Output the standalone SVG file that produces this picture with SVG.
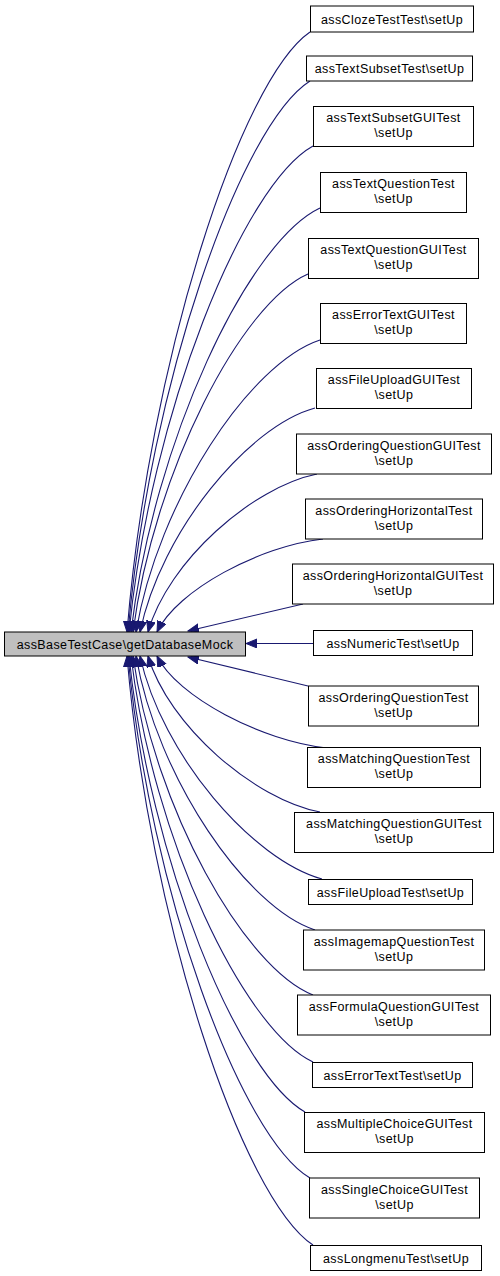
<svg xmlns="http://www.w3.org/2000/svg" width="500" height="1276" viewBox="0 0 500 1276">
<style>
.n rect{fill:#ffffff;stroke:#000000;stroke-width:1}
.root rect{fill:#bfbfbf;stroke:#000000;stroke-width:1}
text{font-family:"Liberation Sans",Arial,sans-serif;font-size:12.5px;letter-spacing:0.4px;text-anchor:middle;fill:#000000}
.e path{fill:none;stroke:#191970;stroke-width:1.1;marker-end:url(#ah)}
</style>
<defs>
<marker id="ah" markerUnits="userSpaceOnUse" markerWidth="12" markerHeight="10" refX="11" refY="4.5" orient="auto">
<path d="M0,0 L11,4.5 L0,9 z" fill="#191970" stroke="#191970" stroke-width="1"/>
</marker>
</defs>
<rect width="500" height="1276" fill="#ffffff"/>
<g id="edges" class="e">
<path d="M310,32 C240.5,80 149,362 127,632"/>
<path d="M310,81 C240.8,125 149.8,384 128,632"/>
<path d="M313,146 C243,185 151,413 129,632"/>
<path d="M320,208 C248,242 153.7,441 131,632"/>
<path d="M308,274 C241.5,303 154,471 133,632"/>
<path d="M320,340 C250,363 158,501 136,632"/>
<path d="M315,408 C248.5,426 161,531 140,632"/>
<path d="M317,474 C252.8,487 168,561 148,632"/>
<path d="M323,539 C260,546 177,590 157,632"/>
<path d="M303,604 L188,631"/>
<path d="M313,643.5 L246,643.5"/>
<path d="M308,686 L188,657"/>
<path d="M327,748 C262,741 177,697 157,656"/>
<path d="M320,812 C254.6,799.5 168.6,726 148,656"/>
<path d="M322,879 C253,860 162,756 140,656"/>
<path d="M315,930 C247,908 157.5,779 136,656"/>
<path d="M313,995 C244.6,968 154.6,809 133,656"/>
<path d="M313,1062 C243.8,1029.5 152.8,838.7 131,656"/>
<path d="M305,1112 C238,1073.7 150,860 129,656"/>
<path d="M310,1178 C240.8,1137 149.8,891 128,656"/>
<path d="M313,1245 C242.3,1198 149.3,921 127,656"/>
</g>
<g id="main" class="root"><rect x="4.5" y="632" width="241" height="24"/><text x="125" y="648.5">assBaseTestCase\getDatabaseMock</text></g>
<g id="n1" class="n"><rect x="310.5" y="6" width="163" height="26"/><text x="392" y="23.5">assClozeTestTest\setUp</text></g>
<g id="n2" class="n"><rect x="306.5" y="56" width="166" height="25"/><text x="389.5" y="73">assTextSubsetTest\setUp</text></g>
<g id="n3" class="n"><rect x="313.5" y="106.5" width="160" height="40"/><text x="393.5" y="122">assTextSubsetGUITest</text><text x="393.5" y="137">\setUp</text></g>
<g id="n4" class="n"><rect x="320.5" y="172.5" width="146" height="40"/><text x="393.5" y="188">assTextQuestionTest</text><text x="393.5" y="203">\setUp</text></g>
<g id="n5" class="n"><rect x="308.5" y="238.5" width="170" height="40"/><text x="393.5" y="254">assTextQuestionGUITest</text><text x="393.5" y="269">\setUp</text></g>
<g id="n6" class="n"><rect x="320.5" y="303.5" width="146" height="40"/><text x="393.5" y="319">assErrorTextGUITest</text><text x="393.5" y="334">\setUp</text></g>
<g id="n7" class="n"><rect x="316.5" y="368.5" width="155" height="40"/><text x="394" y="384">assFileUploadGUITest</text><text x="394" y="399">\setUp</text></g>
<g id="n8" class="n"><rect x="296.5" y="434" width="195" height="40"/><text x="394" y="449.5">assOrderingQuestionGUITest</text><text x="394" y="464.5">\setUp</text></g>
<g id="n9" class="n"><rect x="305.5" y="499" width="177" height="40"/><text x="394" y="514.5">assOrderingHorizontalTest</text><text x="394" y="529.5">\setUp</text></g>
<g id="n10" class="n"><rect x="292.5" y="564" width="201" height="40"/><text x="393" y="579.5">assOrderingHorizontalGUITest</text><text x="393" y="594.5">\setUp</text></g>
<g id="n11" class="n"><rect x="313.5" y="630.5" width="159" height="25"/><text x="393" y="647.5">assNumericTest\setUp</text></g>
<g id="n12" class="n"><rect x="308.5" y="686" width="170" height="40"/><text x="393.5" y="701.5">assOrderingQuestionTest</text><text x="393.5" y="716.5">\setUp</text></g>
<g id="n13" class="n"><rect x="307.5" y="747.5" width="173" height="40"/><text x="394" y="763">assMatchingQuestionTest</text><text x="394" y="778">\setUp</text></g>
<g id="n14" class="n"><rect x="294.5" y="812.5" width="199" height="40"/><text x="394" y="828">assMatchingQuestionGUITest</text><text x="394" y="843">\setUp</text></g>
<g id="n15" class="n"><rect x="308.5" y="879.5" width="164" height="25"/><text x="390.5" y="896.5">assFileUploadTest\setUp</text></g>
<g id="n16" class="n"><rect x="303.5" y="930" width="181" height="40"/><text x="394" y="945.5">assImagemapQuestionTest</text><text x="394" y="960.5">\setUp</text></g>
<g id="n17" class="n"><rect x="297.5" y="995" width="193" height="40"/><text x="394" y="1010.5">assFormulaQuestionGUITest</text><text x="394" y="1025.5">\setUp</text></g>
<g id="n18" class="n"><rect x="312.5" y="1062.5" width="160" height="25"/><text x="392.5" y="1079.5">assErrorTextTest\setUp</text></g>
<g id="n19" class="n"><rect x="304.5" y="1112.5" width="180" height="40"/><text x="394.5" y="1128">assMultipleChoiceGUITest</text><text x="394.5" y="1143">\setUp</text></g>
<g id="n20" class="n"><rect x="309.5" y="1178" width="170" height="40"/><text x="394.5" y="1193.5">assSingleChoiceGUITest</text><text x="394.5" y="1208.5">\setUp</text></g>
<g id="n21" class="n"><rect x="310.5" y="1245.5" width="171" height="25"/><text x="396" y="1262.5">assLongmenuTest\setUp</text></g>
</svg>
